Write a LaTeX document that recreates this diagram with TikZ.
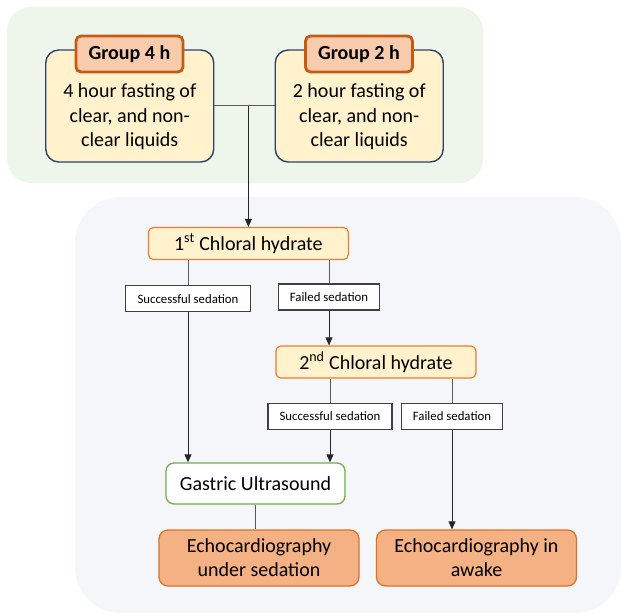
\documentclass[tikz,border=0pt]{standalone}
\usepackage{fontspec}
\setmainfont{Carlito}
\usetikzlibrary{arrows.meta}
\definecolor{bggreen}{HTML}{EEF5EA}
\definecolor{bgblue}{HTML}{F4F6FA}
\definecolor{paleyellow}{HTML}{FFF2CC}
\definecolor{darkblue}{HTML}{2F4266}
\definecolor{tagfill}{HTML}{F8CBAD}
\definecolor{tagline}{HTML}{C55A11}
\definecolor{chlline}{HTML}{ED7D31}
\definecolor{echofill}{HTML}{F4B183}
\definecolor{echoline}{HTML}{D9732A}
\definecolor{usgreen}{HTML}{70AD47}
\definecolor{linegray}{HTML}{595959}
\begin{document}
\begin{tikzpicture}[x=1pt,y=-1pt,
    every node/.style={text=black,inner sep=0pt},
    groupbox/.style={draw=darkblue,fill=paleyellow,line width=1.4pt,rounded corners=13pt,
      minimum width=168pt,minimum height=112pt},
    grouptag/.style={draw=tagline,fill=tagfill,line width=2.8pt,rounded corners=5pt,
      minimum width=107pt,minimum height=36pt,font=\fontsize{20}{24}\selectfont\bfseries},
    bigtext/.style={align=center,font=\fontsize{20}{24.5}\selectfont},
    chloral/.style={draw=chlline,fill=paleyellow,line width=1.2pt,rounded corners=5pt,
      minimum width=200pt,minimum height=32pt,font=\fontsize{20}{24}\selectfont},
    outcome/.style={draw=black!75,fill=white,line width=1.1pt,
      minimum height=26pt,font=\fontsize{12.8}{15}\selectfont},
    echobox/.style={draw=echoline,fill=echofill,line width=1.3pt,rounded corners=9pt,
      minimum width=200pt,minimum height=56pt,align=center,font=\fontsize{20}{24}\selectfont},
    usbox/.style={draw=usgreen,fill=white,line width=1.3pt,rounded corners=8pt,
      minimum width=179pt,minimum height=41pt,font=\fontsize{20}{24}\selectfont},
    link/.style={draw=linegray,line width=1pt},
    arrow/.style={link,draw=black!85,-{Triangle[length=8pt,width=7pt]}}]
  \useasboundingbox (0,0) rectangle (621,615);

  % backgrounds
  \fill[bggreen] (7,7) [rounded corners=24pt] rectangle (483,183);
  \fill[bgblue] (75,197) [rounded corners=46pt] rectangle (621,613);

  % the two groups
  \node[groupbox] (g4box) at (129.75,106) {};
  \node[bigtext] (g4txt) at (129.75,117) {4 hour fasting of\\clear, and non-\\clear liquids};
  \node[grouptag] (g4tag) at (129.5,54) {Group 4 h};

  \node[groupbox] (g2box) at (359.25,106) {};
  \node[bigtext] (g2txt) at (359.25,117) {2 hour fasting of\\clear, and non-\\clear liquids};
  \node[grouptag] (g2tag) at (359,54) {Group 2 h};

  % sedation steps
  \node[chloral] (chl1) at (248.4,243.5) {1\textsuperscript{st} Chloral hydrate};
  \node[outcome,minimum width=125pt] (succ1) at (188,298.7) {Successful sedation};
  \node[outcome,minimum width=101pt] (fail1) at (329,297) {Failed sedation};

  \node[chloral] (chl2) at (375.9,362) {2\textsuperscript{nd} Chloral hydrate};
  \node[outcome,minimum width=124pt] (succ2) at (330,416.3) {Successful sedation};
  \node[outcome,minimum width=101pt] (fail2) at (452,416.3) {Failed sedation};

  \node[usbox] (gastric) at (255.5,483.5) {Gastric Ultrasound};
  \node[echobox] (echosed) at (259,558) {Echocardiography\\under sedation};
  \node[echobox] (echoawk) at (476.5,558) {Echocardiography in\\awake};

  % connectors
  \draw[link] (g4box.east) -- (g2box.west);
  \draw[arrow] (chl1.north |- g4box.east) -- (chl1.north);
  \draw[link] (succ1.north |- chl1.south) -- (succ1.north);
  \draw[link] (fail1.north |- chl1.south) -- (fail1.north);
  \draw[arrow] (fail1.south) -- (fail1.south |- chl2.north);
  \draw[link] (succ2.north |- chl2.south) -- (succ2.north);
  \draw[link] (fail2.north |- chl2.south) -- (fail2.north);
  \draw[arrow] (succ1.south) -- (succ1.south |- gastric.north);
  \draw[arrow] (succ2.south) -- (succ2.south |- gastric.north);
  \draw[link] (gastric.south) -- (gastric.south |- echosed.north);
  \draw[arrow] (fail2.south) -- (fail2.south |- echoawk.north);
\end{tikzpicture}
\end{document}
